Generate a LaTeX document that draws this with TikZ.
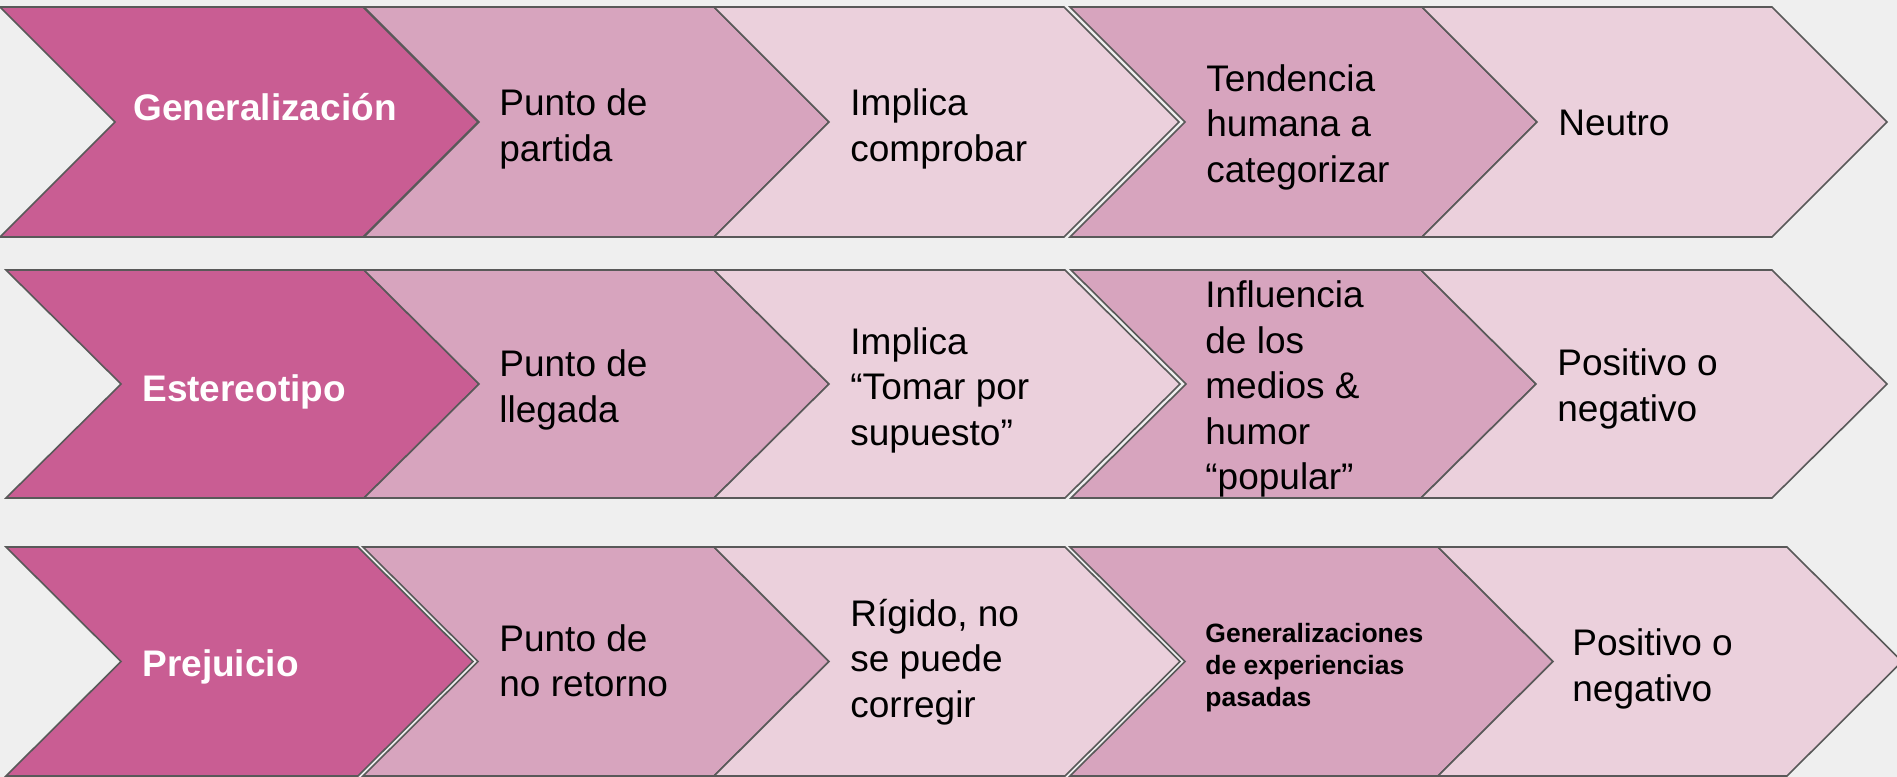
\documentclass[tikz,border=0pt]{standalone}
\usepackage{fontspec}
\setmainfont{Liberation Sans}
\definecolor{bgc}{RGB}{239,239,239}
\definecolor{cA}{RGB}{201,93,147}
\definecolor{cB}{RGB}{215,164,190}
\definecolor{cC}{RGB}{235,208,220}
\definecolor{edgec}{RGB}{89,89,89}
\newcommand{\chevshape}[5]{%
  \filldraw[chev, fill=#5] (#1,#3) -- (#2,#3) -- ({#2+115},{(#3+#4)/2}) -- (#2,#4) -- (#1,#4) -- ({#1+115},{(#3+#4)/2}) -- cycle;}
\tikzset{
  chev/.style={draw=edgec, line width=0.8pt, line join=miter},
  body/.style={anchor=west, align=left, inner sep=0pt, font=\fontsize{18.5}{22.75}\selectfont, text=black},
  head/.style={anchor=west, inner sep=0pt, font=\fontsize{18.5}{22.75}\selectfont\bfseries, text=white},
  smallbold/.style={anchor=west, align=left, inner sep=0pt, font=\fontsize{13.25}{16}\selectfont\bfseries, text=black}
}
\begin{document}
\begin{tikzpicture}[x=0.5pt,y=-0.5pt]
\fill[bgc] (0,0) rectangle (1897,777);
\useasboundingbox (0,0) rectangle (1897,777);
\clip (0,0) rectangle (1897,777);
% row 1
\chevshape{0}{363}{7}{237}{cA}
\chevshape{364}{714}{7}{237}{cB}
\chevshape{714}{1064}{7}{237}{cC}
\chevshape{1070}{1422}{7}{237}{cB}
\chevshape{1422}{1772}{7}{237}{cC}
% row 2
\chevshape{6}{364}{270}{498}{cA}
\chevshape{364}{714}{270}{498}{cB}
\chevshape{714}{1065}{270}{498}{cC}
\chevshape{1071}{1421}{270}{498}{cB}
\chevshape{1421}{1772}{270}{498}{cC}
% row 3
\chevshape{6}{358}{547}{776}{cA}
\chevshape{363}{714}{547}{776}{cB}
\chevshape{714}{1065}{547}{776}{cC}
\chevshape{1070}{1438}{547}{776}{cB}
\chevshape{1438}{1787}{547}{776}{cC}
% texts row 1
\node[head] (h1) at (133,107) {Generalización};
\node[body] (t11) at (499,129) {Punto de\\partida};
\node[body] (t12) at (850,129) {Implica\\comprobar};
\node[body] (t13) at (1206,127) {Tendencia\\humana a\\categorizar};
\node[body] (t14) at (1558,123) {Neutro};
% texts row 2
\node[head] (h2) at (142,392) {Estereotipo};
\node[body] (t21) at (499,390) {Punto de\\llegada};
\node[body] (t22) at (850,390) {Implica\\“Tomar por\\supuesto”};
\node[body] (t23) at (1205,389) {Influencia\\de los\\medios \&\\humor\\“popular”};
\node[body] (t24) at (1557,389) {Positivo o\\negativo};
% texts row 3
\node[head] (h3) at (142,667) {Prejuicio};
\node[body] (t31) at (499,661) {Punto de\\no retorno};
\node[body] (t32) at (850,662) {Rígido, no\\se puede\\corregir};
\node[smallbold] (t33) at (1205,668) {Generalizaciones\\de experiencias\\pasadas};
\node[body] (t34) at (1572,669) {Positivo o\\negativo};
\end{tikzpicture}
\end{document}
